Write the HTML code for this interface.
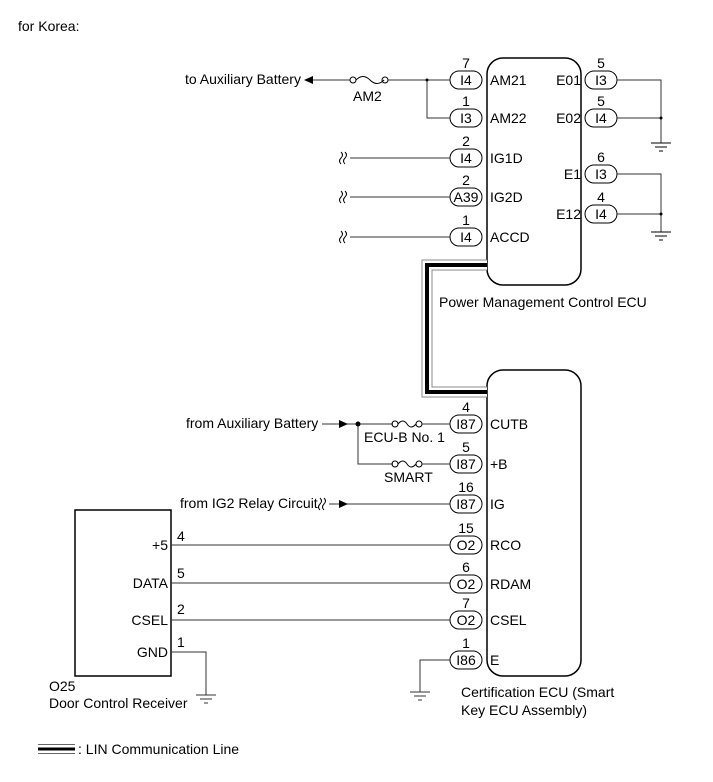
<!DOCTYPE html>
<html><head><meta charset="utf-8"><style>
html,body{margin:0;padding:0;background:#fff}
svg{display:block}
text{font-family:"Liberation Sans",Arial,sans-serif;font-size:14px;fill:#000}
</style></head><body>
<svg width="713" height="782" viewBox="0 0 713 782">
<g fill="none" stroke="#000" stroke-width="1">
<rect x="487" y="58" width="94" height="227" rx="16" stroke-width="1.5"/>
<rect x="487" y="370" width="94" height="306" rx="16" stroke-width="1.5"/>
<rect x="75" y="510" width="96" height="166" stroke-width="1.5"/>
<path d="M487,265 H427 V392 H487" stroke="#888" stroke-width="11"/>
<path d="M487,265 H427 V392 H487" stroke="#fff" stroke-width="9"/>
<path d="M487,265 H427 V392 H487" stroke="#000" stroke-width="4"/>
<rect x="450" y="71" width="32" height="18" rx="9"/>
<rect x="450" y="109" width="32" height="18" rx="9"/>
<rect x="450" y="149" width="32" height="18" rx="9"/>
<rect x="450" y="188" width="32" height="18" rx="9"/>
<rect x="450" y="228" width="32" height="18" rx="9"/>
<rect x="585" y="71" width="32" height="18" rx="9"/>
<rect x="585" y="109" width="32" height="18" rx="9"/>
<rect x="585" y="165" width="32" height="18" rx="9"/>
<rect x="585" y="205" width="32" height="18" rx="9"/>
<rect x="450" y="415" width="32" height="18" rx="9"/>
<rect x="450" y="455" width="32" height="18" rx="9"/>
<rect x="450" y="495" width="32" height="18" rx="9"/>
<rect x="450" y="536" width="32" height="18" rx="9"/>
<rect x="450" y="575" width="32" height="18" rx="9"/>
<rect x="450" y="611" width="32" height="18" rx="9"/>
<rect x="450" y="651" width="32" height="18" rx="9"/>
<path d="M312,80 H350 M388,80 H450 M427,80 V118 H450" stroke="#333"/>
<circle cx="353" cy="80" r="3"/><circle cx="385" cy="80" r="3"/>
<path d="M356,80 q7,-7 14,0 t14,0"/>
<path d="M350,158 H450 M350,197 H450 M350,237 H450" stroke="#333"/>
<path d="M341,152 q3,3 0,6 q-3,3 0,6 M345,152 q3,3 0,6 q-3,3 0,6"/>
<path d="M341,191 q3,3 0,6 q-3,3 0,6 M345,191 q3,3 0,6 q-3,3 0,6"/>
<path d="M341,231 q3,3 0,6 q-3,3 0,6 M345,231 q3,3 0,6 q-3,3 0,6"/>
<path d="M617,80 H661 V143 M617,118 H661 M617,174 H661 V232 M617,214 H661" stroke="#333"/>
<path d="M651,143 H671 M655,147 H667 M659,151 H663"/>
<path d="M651,232 H671 M655,236 H667 M659,240 H663"/>
<path d="M322,424 H358 M358,424 H393 M358,424 V464 H393" stroke="#333"/>
<circle cx="395" cy="424" r="3"/><circle cx="419" cy="424" r="3"/>
<path d="M398,424 q5,-6 9,0 t9,0"/>
<circle cx="395" cy="464" r="3"/><circle cx="419" cy="464" r="3"/>
<path d="M398,464 q5,-6 9,0 t9,0"/>
<path d="M422,424 H450 M422,464 H450" stroke="#333"/>
<path d="M329,504 H450" stroke="#333"/>
<path d="M320,498 q3,3 0,6 q-3,3 0,6 M324,498 q3,3 0,6 q-3,3 0,6"/>
<path d="M171,545 H450 M171,583 H450 M171,620 H450" stroke="#333"/>
<path d="M171,652 H206 V695 M196,695 H216 M200,699 H212 M204,703 H208" stroke="#333"/>
<path d="M450,660 H420 V692 M410,692 H430 M414,696 H426 M418,700 H422" stroke="#333"/>
<path d="M38,749 H75" stroke="#000" stroke-width="3"/>
<path d="M38,744.5 H75 M38,753.5 H75" stroke="#666"/>
</g>
<g fill="#000">
<polygon points="304,80 313,76 313,84"/>
<polygon points="348,424 339,420 339,428"/>
<circle cx="358" cy="424" r="2.5"/>
<polygon points="348,504 339,500 339,508"/>
<circle cx="427" cy="80" r="1.5"/>
<circle cx="661" cy="118" r="1.5"/><circle cx="661" cy="214" r="1.5"/>
</g>
<text x="18" y="31" font-size="16">for Korea:</text>
<text x="185" y="84">to Auxiliary Battery</text>
<text x="353" y="101">AM2</text>
<g text-anchor="middle">
<text x="466" y="68">7</text><text x="466" y="85">I4</text>
<text x="466" y="106">1</text><text x="466" y="123">I3</text>
<text x="466" y="146">2</text><text x="466" y="163">I4</text>
<text x="466" y="185">2</text><text x="466" y="202">A39</text>
<text x="466" y="225">1</text><text x="466" y="242">I4</text>
<text x="601" y="68">5</text><text x="601" y="85">I3</text>
<text x="601" y="106">5</text><text x="601" y="123">I4</text>
<text x="601" y="162">6</text><text x="601" y="179">I3</text>
<text x="601" y="202">4</text><text x="601" y="219">I4</text>
<text x="466" y="412">4</text><text x="466" y="429">I87</text>
<text x="466" y="452">5</text><text x="466" y="469">I87</text>
<text x="466" y="492">16</text><text x="466" y="509">I87</text>
<text x="466" y="533">15</text><text x="466" y="550">O2</text>
<text x="466" y="572">6</text><text x="466" y="589">O2</text>
<text x="466" y="608">7</text><text x="466" y="625">O2</text>
<text x="466" y="648">1</text><text x="466" y="665">I86</text>
</g>
<text x="490" y="85">AM21</text><text x="490" y="123">AM22</text>
<text x="490" y="163">IG1D</text><text x="490" y="202">IG2D</text><text x="490" y="242">ACCD</text>
<g text-anchor="end">
<text x="581" y="85">E01</text><text x="581" y="123">E02</text>
<text x="581" y="179">E1</text><text x="581" y="219">E12</text>
<text x="168" y="550">+5</text><text x="168" y="588">DATA</text>
<text x="168" y="625">CSEL</text><text x="168" y="657">GND</text>
</g>
<text x="439" y="307">Power Management Control ECU</text>
<text x="186" y="428">from Auxiliary Battery</text>
<text x="364" y="442">ECU-B No. 1</text>
<text x="384" y="482">SMART</text>
<text x="180" y="508">from IG2 Relay Circuit</text>
<text x="490" y="429">CUTB</text><text x="490" y="469">+B</text><text x="490" y="509">IG</text>
<text x="490" y="550">RCO</text><text x="490" y="589">RDAM</text><text x="490" y="625">CSEL</text><text x="490" y="665">E</text>
<text x="177" y="541">4</text><text x="177" y="578">5</text><text x="177" y="614">2</text><text x="177" y="647">1</text>
<text x="49" y="691">O25</text>
<text x="49" y="708">Door Control Receiver</text>
<text x="461" y="697">Certification ECU (Smart</text>
<text x="461" y="715">Key ECU Assembly)</text>
<text x="78" y="754">: LIN Communication Line</text>
</svg>
</body></html>
